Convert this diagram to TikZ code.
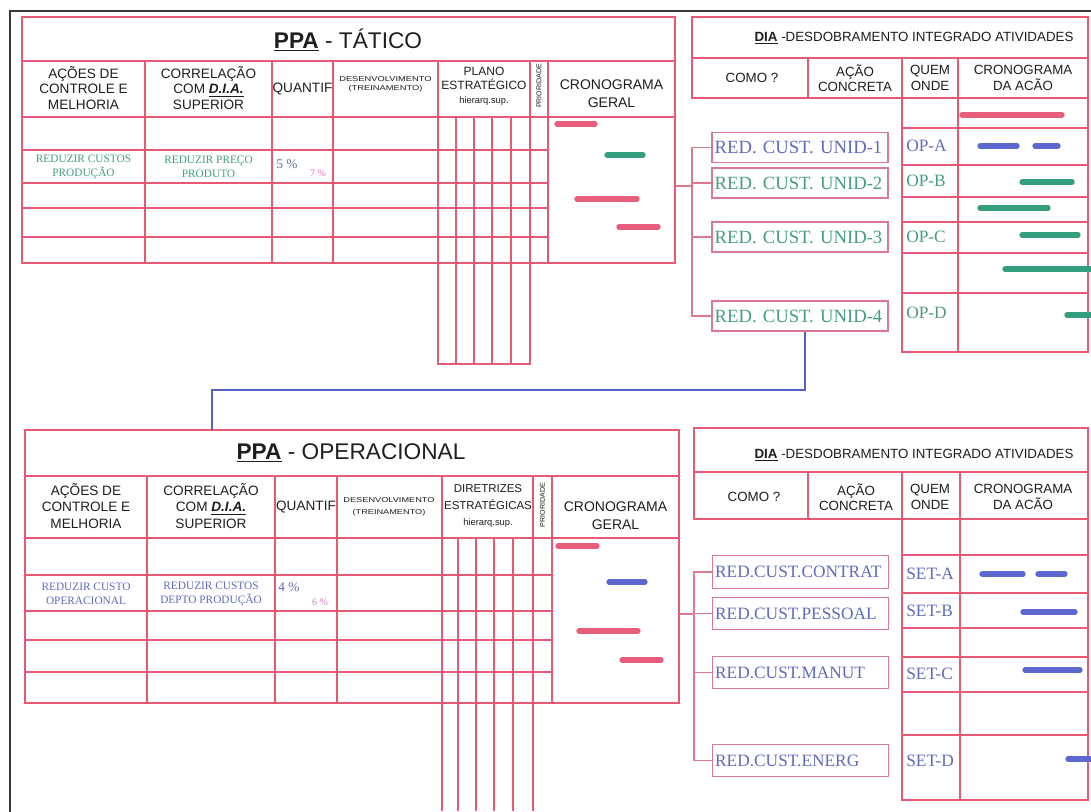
\documentclass[tikz,border=0pt]{standalone}
\usepackage{fontspec}
\usepackage{graphicx}
\setmainfont{Liberation Serif}
\setsansfont{Liberation Sans}
\usetikzlibrary{calc}

\definecolor{gridred}{RGB}{232,88,116}
\definecolor{treec}{RGB}{222,122,142}
\definecolor{boxc}{RGB}{214,120,150}
\definecolor{barpink}{RGB}{232,92,124}
\definecolor{bargreen}{RGB}{52,158,126}
\definecolor{barblue}{RGB}{92,104,208}
\definecolor{txtgreen}{RGB}{70,158,128}
\definecolor{txtblue}{RGB}{96,106,190}
\definecolor{txtgray}{RGB}{104,112,150}
\definecolor{txtpink}{RGB}{222,120,190}
\definecolor{framec}{RGB}{58,58,58}
\definecolor{headc}{RGB}{30,30,30}
\definecolor{linkc}{RGB}{84,96,198}

\begin{document}
\begin{tikzpicture}[x=0.75pt,y=-0.75pt,
  tline/.style={draw=gridred, line width=1.1pt},
  tthin/.style={draw=gridred, line width=0.8pt},
  treeline/.style={draw=treec, line width=0.9pt},
  bar/.style={line width=4pt, line cap=round},
  ttl/.style={font=\sffamily\fontsize{17}{20}\selectfont, text=headc, inner sep=0pt},
  hd/.style={font=\sffamily\fontsize{10.2}{11.6}\selectfont, text=headc, align=center, inner sep=0pt},
  hdlow/.style={font=\sffamily\fontsize{10.2}{12.6}\selectfont, text=headc, align=center, inner sep=0pt},
  hdgen/.style={font=\sffamily\fontsize{10.5}{13.5}\selectfont, text=headc, align=center, inner sep=0pt},
  hdpl/.style={font=\sffamily\fontsize{9}{10.5}\selectfont, text=headc, align=center, inner sep=0pt},
  tiny/.style={font=\sffamily\fontsize{5.3}{7}\selectfont, text=headc, align=center, inner sep=0pt},
  dia/.style={font=\sffamily\fontsize{10}{11.5}\selectfont, text=headc, align=center, inner sep=0pt},
  data/.style={font=\rmfamily\fontsize{8.5}{10.5}\selectfont, align=center, inner sep=0pt},
  pct/.style={font=\rmfamily\fontsize{10}{11}\selectfont, inner sep=0pt},
  pctsm/.style={font=\rmfamily\fontsize{7.5}{8}\selectfont, text=txtpink, inner sep=0pt},
  redbox/.style={draw=boxc, line width=0.9pt, font=\rmfamily\fontsize{14}{15}\selectfont,
    text width=128pt, align=left, inner xsep=2pt, inner ysep=0pt, minimum height=22.5pt},
  redboxlow/.style={redbox, font=\rmfamily\fontsize{13}{15}\selectfont, minimum height=24.5pt},
  oplab/.style={font=\rmfamily\fontsize{13}{15}\selectfont, anchor=west, inner sep=0pt}
]
\useasboundingbox (0,0) rectangle (1091,811);
\clip (0,0) rectangle (1091,811);
\fill[white] (0,0) rectangle (1091,811);

% page frame
\draw[framec, line width=1.6pt] (10,11) rectangle (1110,830);

% ================= PPA - TATICO =================
\draw[tline] (22,17) rectangle (675,263);
\draw[tline] (22,61) -- (675,61);
\draw[tline] (22,117) -- (675,117);
\foreach \y in {150,183,208,237} \draw[tline] (22,\y) -- (548,\y);
\foreach \x in {145,272,333,438,530,548} \draw[tline] (\x,61) -- (\x,263);
\foreach \x in {456,474,492,511} \draw[tthin] (\x,117) -- (\x,364);
\draw[tthin] (438,263) -- (438,364) -- (530,364) -- (530,263);

\node[ttl] (tTitle) at (348,40) {\textbf{\underline{PPA}} - TÁTICO};
\node[hd] (tH1) at (83.5,88) {AÇÕES DE\\CONTROLE E\\MELHORIA};
\node[hd] (tH2) at (208.5,88) {CORRELAÇÃO\\COM \textbf{\textit{\underline{D.I.A.}}}\\SUPERIOR};
\node[hd] (tH3) at (302.5,89) {QUANTIF};
\node[tiny] (tH4) at (385.5,84) {\scalebox{1.32}[1]{\begin{tabular}{@{}c@{}}DESENVOLVIMENTO\\(TREINAMENTO)\end{tabular}}};
\node[hdpl] (tH5) at (484,86) {PLANO\\ESTRATÉGICO\\{\fontsize{7}{8}\selectfont hierarq.sup.}};
\node[tiny, rotate=90] (tH6) at (539,86) {PRIORIDADE};
\node[hdgen] (tH7) at (611.5,94) {CRONOGRAMA\\GERAL};

\node[data, text=txtgreen] (tD1) at (83.5,167) {REDUZIR CUSTOS\\PRODUÇÃO};
\node[data, text=txtgreen] (tD2) at (208.5,167) {REDUZIR PREÇO\\PRODUTO};
\node[pct, text=txtgray] (tP1) at (287,164) {5 \%};
\node[pctsm] (tP2) at (318,173) {7 \%};

\draw[bar, barpink] (557,124) -- (595,124);
\draw[bar, bargreen] (607,155) -- (643,155);
\draw[bar, barpink] (577,199) -- (637,199);
\draw[bar, barpink] (619,227) -- (658,227);

% ================= PPA - OPERACIONAL =================
\draw[tline] (25,430) rectangle (679,703);
\draw[tline] (25,476) -- (679,476);
\draw[tline] (25,538) -- (679,538);
\foreach \y in {575,611,640,672} \draw[tline] (25,\y) -- (552,\y);
\foreach \x in {147,275,337,442,533,552} \draw[tline] (\x,476) -- (\x,703);
\foreach \x in {458,476,494,513} \draw[tthin] (\x,538) -- (\x,811);
\foreach \x in {442,533} \draw[tthin] (\x,703) -- (\x,811);

\node[ttl] (oTitle) at (351,453) {\textbf{\underline{PPA}} - OPERACIONAL};
\node[hdlow] (oH1) at (86,506) {AÇÕES DE\\CONTROLE E\\MELHORIA};
\node[hdlow] (oH2) at (211,506) {CORRELAÇÃO\\COM \textbf{\textit{\underline{D.I.A.}}}\\SUPERIOR};
\node[hdlow] (oH3) at (306,507) {QUANTIF};
\node[tiny, font=\sffamily\fontsize{5.3}{8.6}\selectfont] (oH4) at (389,506) {\scalebox{1.3}[1]{\begin{tabular}{@{}c@{}}DESENVOLVIMENTO\\(TREINAMENTO)\end{tabular}}};
\node[hdpl, font=\sffamily\fontsize{8.6}{12.2}\selectfont] (oH5) at (488,506) {DIRETRIZES\\ESTRATÉGICAS\\{\fontsize{7}{8}\selectfont hierarq.sup.}};
\node[tiny, rotate=90] (oH6) at (542.5,505) {PRIORIDADE};
\node[hdgen] (oH7) at (615.5,516) {CRONOGRAMA\\GERAL};

\node[data, text=txtblue] (oD1) at (86,594) {REDUZIR CUSTO\\OPERACIONAL};
\node[data, text=txtblue] (oD2) at (211,594) {REDUZIR CUSTOS\\DEPTO PRODUÇÃO};
\node[pct, text=txtblue] (oP1) at (289,587) {4 \%};
\node[pctsm] (oP2) at (320,602) {6 \%};

\draw[bar, barpink] (558,546) -- (597,546);
\draw[bar, barblue] (609,582) -- (645,582);
\draw[bar, barpink] (579,631) -- (638,631);
\draw[bar, barpink] (622,660) -- (661,660);

% ================= DIA (upper) =================
\draw[tline] (692,17) rectangle (1088,98);
\draw[tline] (692,58) -- (1088,58);
\foreach \x in {808,902,958} \draw[tline] (\x,58) -- (\x,98);
\draw[tline] (902,98) rectangle (1088,352);
\draw[tline] (958,98) -- (958,352);
\foreach \y in {128,165,197,222,253,293} \draw[tline] (902,\y) -- (1088,\y);

\node[dia] (dT) at (914,38) {\textbf{\underline{DIA}} -DESDOBRAMENTO INTEGRADO ATIVIDADES};
\node[dia] (dA) at (752,78) {COMO ?};
\node[dia] (dB) at (855,78) {AÇÃO\\CONCRETA};
\node[dia] (dC) at (930,78) {QUEM\\ONDE};
\node[dia] (dD) at (1023,78) {CRONOGRAMA\\DA ACÃO};

\node[redbox, text=txtblue] (u1) at (800,147.5) {RED. CUST. UNID-1};
\node[redbox, text=txtgreen] (u2) at (800,183) {RED. CUST. UNID-2};
\node[redbox, text=txtgreen] (u3) at (800,237) {RED. CUST. UNID-3};
\node[redbox, text=txtgreen] (u4) at (800,316) {RED. CUST. UNID-4};

\node[oplab, text=txtblue] (opA) at (906,146) {OP-A};
\node[oplab, text=txtgreen] (opB) at (906,181) {OP-B};
\node[oplab, text=txtgreen] (opC) at (906,237) {OP-C};
\node[oplab, text=txtgreen!80!gray] (opD) at (906,313) {OP-D};

\draw[bar, barpink] (962,115) -- (1062,115);
\draw[bar, barblue] (980,146) -- (1017,146);
\draw[bar, barblue] (1035,146) -- (1058,146);
\draw[bar, bargreen] (1022,182) -- (1072,182);
\draw[bar, bargreen] (980,208) -- (1048,208);
\draw[bar, bargreen] (1022,235) -- (1078,235);
\draw[bar, bargreen] (1005,269) -- (1095,269);
\draw[bar, bargreen] (1067,315) -- (1095,315);

% tree from the upper table to its actions
\coordinate (tOut) at (675,186);
\coordinate (uTrunk) at (692,186);
\draw[treeline] (tOut) -- (uTrunk);
\draw[treeline] (u1.west) -- (u1.west -| uTrunk) -- (u4.west -| uTrunk) -- (u4.west);
\draw[treeline] (u2.west) -- (u2.west -| uTrunk);
\draw[treeline] (u3.west) -- (u3.west -| uTrunk);

% ================= DIA (lower) =================
\draw[tline] (694,428) rectangle (1088,519);
\draw[tline] (694,472) -- (1088,472);
\foreach \x in {808,902,960} \draw[tline] (\x,472) -- (\x,519);
\draw[tline] (902,519) rectangle (1088,800);
\draw[tline] (960,519) -- (960,800);
\foreach \y in {555,593,628,657,692,735} \draw[tline] (902,\y) -- (1088,\y);

\node[dia] (eT) at (914,455) {\textbf{\underline{DIA}} -DESDOBRAMENTO INTEGRADO ATIVIDADES};
\node[dia] (eA) at (754,497) {COMO ?};
\node[dia] (eB) at (856,497) {AÇÃO\\CONCRETA};
\node[dia] (eC) at (930,497) {QUEM\\ONDE};
\node[dia] (eD) at (1023,497) {CRONOGRAMA\\DA ACÃO};

\node[redboxlow, text=txtblue] (l1) at (800.5,572) {RED.CUST.CONTRAT};
\node[redboxlow, text=txtblue] (l2) at (800.5,613.5) {RED.CUST.PESSOAL};
\node[redboxlow, text=txtblue] (l3) at (800.5,672.5) {RED.CUST.MANUT};
\node[redboxlow, text=txtblue] (l4) at (800.5,760.5) {RED.CUST.ENERG};

\node[oplab, text=txtblue] (setA) at (906,574) {SET-A};
\node[oplab, text=txtblue] (setB) at (906,611) {SET-B};
\node[oplab, text=txtblue] (setC) at (906,674) {SET-C};
\node[oplab, text=txtblue] (setD) at (906,761) {SET-D};

\draw[bar, barblue] (982,574) -- (1023,574);
\draw[bar, barblue] (1038,574) -- (1065,574);
\draw[bar, barblue] (1023,612) -- (1075,612);
\draw[bar, barblue] (1025,670) -- (1080,670);
\draw[bar, barblue] (1068,759) -- (1095,759);

% tree from the lower table to its actions
\coordinate (oOut) at (679,614);
\coordinate (lTrunk) at (694,614);
\draw[treeline] (oOut) -- (lTrunk);
\draw[treeline] (l1.west) -- (l1.west -| lTrunk) -- (l4.west -| lTrunk) -- (l4.west);
\draw[treeline] (l2.west) -- (l2.west -| lTrunk);
\draw[treeline] (l3.west) -- (l3.west -| lTrunk);

% link from UNID-4 down to the operational table
\coordinate (bend) at (212,390);
\coordinate (oIn) at (212,430);
\draw[linkc, line width=1.6pt] ([xshift=3.75pt]u4.south) |- (bend) -- (oIn);
\end{tikzpicture}
\end{document}
